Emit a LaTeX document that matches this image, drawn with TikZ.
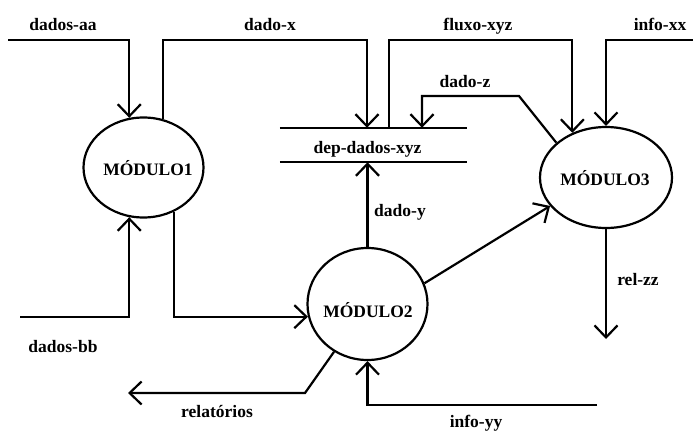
\documentclass[tikz,border=0pt]{standalone}
\usepackage{fontspec}
\setmainfont{Liberation Serif}
\usetikzlibrary{arrows.meta,shapes.geometric}
\begin{document}
\begin{tikzpicture}[x=1pt,y=-1pt,
  flow/.style={line width=2.2pt, line join=miter},
  arr/.style={flow, -{Straight Barb[length=12pt,width=23pt]}},
  proc/.style={ellipse, draw, line width=2.2pt, inner sep=0pt},
  lbl/.style={font=\bfseries\fontsize{17.5}{20}\selectfont, inner sep=0pt, anchor=base},
]
\useasboundingbox (0,0) rectangle (693,431);

% processes
\node[proc, minimum width=120pt, minimum height=100pt] (m1) at (143.5,167.5) {};
\node[proc, minimum width=120pt, minimum height=112pt] (m2) at (367.5,304) {};
\node[proc, minimum width=132pt, minimum height=101pt] (m3) at (606,177.5) {};
\node[lbl] (m1t) at (148,175) {MÓDULO1};
\node[lbl] (m2t) at (368,317) {MÓDULO2};
\node[lbl] (m3t) at (605,185) {MÓDULO3};

% data store
\node[minimum width=187pt, minimum height=34pt, inner sep=0pt] (store) at (373.5,145) {};
\draw[flow] (store.north west) -- (store.north east);
\draw[flow] (store.south west) -- (store.south east);
\node[lbl] (storet) at (367.5,153) {dep-dados-xyz};

% bend points and open ends
\coordinate (aa) at (8,40);
\coordinate (dx) at (367,40);
\coordinate (fx) at (389,40);
\coordinate (ixx) at (693,40);
\coordinate (zb) at (519,96);
\coordinate (zc) at (422,96);
\coordinate (bb) at (20,317);
\coordinate (rb) at (305,393);
\coordinate (rel) at (128,393);
\coordinate (rz) at (606,339);
\coordinate (iy) at (597,405);

% flows
\draw[arr] (aa) -| (m1.106.6);
\draw[arr] (m1.68.8) |- (dx) -- (dx |- store.north);
\draw[arr] (store.north -| fx) -- (fx) -| (m3.127);
\draw[arr] (ixx) -| (m3.north);
\draw[arr] (m3.145.2) -- (zb) -- (zc) -- (zc |- store.north);
\draw[arr] (m2.north) -- (m2.north |- store.south);
\draw[arr] (bb) -| (m1.-106.6);
\draw[arr] (m1.-55.9) |- (m2.192.5);
\draw[arr] (m2.235.9) -- (rb) -- (rel);
\draw[arr] (m2.20.7) -- (m3.207.4);
\draw[arr] (m3.south) -- (rz);
\draw[arr] (iy) -| (m2.south);

% flow labels
\node[lbl] (laa) at (63,30) {dados-aa};
\node[lbl] (ldx) at (270,30) {dado-x};
\node[lbl] (lfx) at (478,30) {fluxo-xyz};
\node[lbl] (lixx) at (660,30) {info-xx};
\node[lbl] (ldz) at (465,87) {dado-z};
\node[lbl] (ldy) at (400,216) {dado-y};
\node[lbl] (lrz) at (638,285) {rel-zz};
\node[lbl] (liy) at (476,427) {info-yy};
\node[lbl] (lrel) at (217,417) {relatórios};
\node[lbl] (lbb) at (63,352) {dados-bb};
\end{tikzpicture}
\end{document}
